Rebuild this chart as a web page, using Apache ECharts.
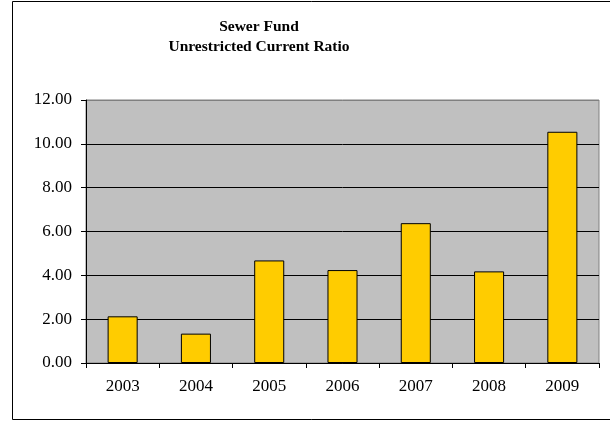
<!DOCTYPE html>
<html>
<head>
<meta charset="utf-8">
<script src="https://cdn.jsdelivr.net/npm/echarts@6/dist/echarts.min.js"></script>
<style>
  html, body { margin: 0; padding: 0; background: #fff; }
  #chart { width: 610px; height: 421px; }
</style>
</head>
<body>
<div id="chart"></div>
<script>
// Sewer Fund unrestricted current ratio by fiscal year
const years = ['2003', '2004', '2005', '2006', '2007', '2008', '2009'];
const ratios = [2.13, 1.34, 4.68, 4.24, 6.38, 4.18, 10.55];
const yTicks = { min: 0, max: 12, step: 2 };

const chart = echarts.init(document.getElementById('chart'), null, { renderer: 'canvas' });
const serif = '"Liberation Serif", "Times New Roman", serif';

chart.setOption({
  animation: false,
  backgroundColor: '#ffffff',
  title: {
    text: 'Sewer Fund\nUnrestricted Current Ratio',
    left: 254,
    textAlign: 'center',
    top: 12,
    textStyle: {
      fontFamily: serif,
      fontSize: 15.5,
      fontWeight: 'bold',
      color: '#000',
      lineHeight: 20
    }
  },
  graphic: [{
    type: 'rect',
    shape: { x: 12.5, y: 1.5, width: 700, height: 418 },
    style: { fill: 'none', stroke: '#000', lineWidth: 1 },
    silent: true,
    z: 100
  }],
  grid: {
    left: 86,
    right: 11,
    top: 100,
    bottom: 58,
    show: true,
    backgroundColor: '#C0C0C0',
    borderColor: '#808080',
    borderWidth: 1
  },
  xAxis: {
    type: 'category',
    data: years,
    boundaryGap: true,
    axisLine: { lineStyle: { color: '#000', width: 1 } },
    axisTick: { show: true, alignWithLabel: false, length: 5, lineStyle: { color: '#000' } },
    axisLabel: { fontFamily: serif, fontSize: 17, color: '#000', margin: 15 },
    splitLine: { show: false }
  },
  yAxis: {
    type: 'value',
    min: yTicks.min,
    max: yTicks.max,
    interval: yTicks.step,
    axisLine: { show: true, lineStyle: { color: '#000', width: 1 } },
    axisTick: { show: true, length: 5, lineStyle: { color: '#000' } },
    axisLabel: {
      fontFamily: serif, fontSize: 17, color: '#000', margin: 14,
      formatter: v => v.toFixed(2)
    },
    splitLine: {
      show: true,
      lineStyle: {
        color: ['#000', '#000', '#000', '#000', '#000', '#000', '#808080'],
        width: 1
      }
    }
  },
  series: [{
    type: 'bar',
    data: ratios,
    barCategoryGap: '59%',
    itemStyle: { color: '#FFCC00', borderColor: '#000', borderWidth: 1 }
  }]
});
</script>
</body>
</html>
